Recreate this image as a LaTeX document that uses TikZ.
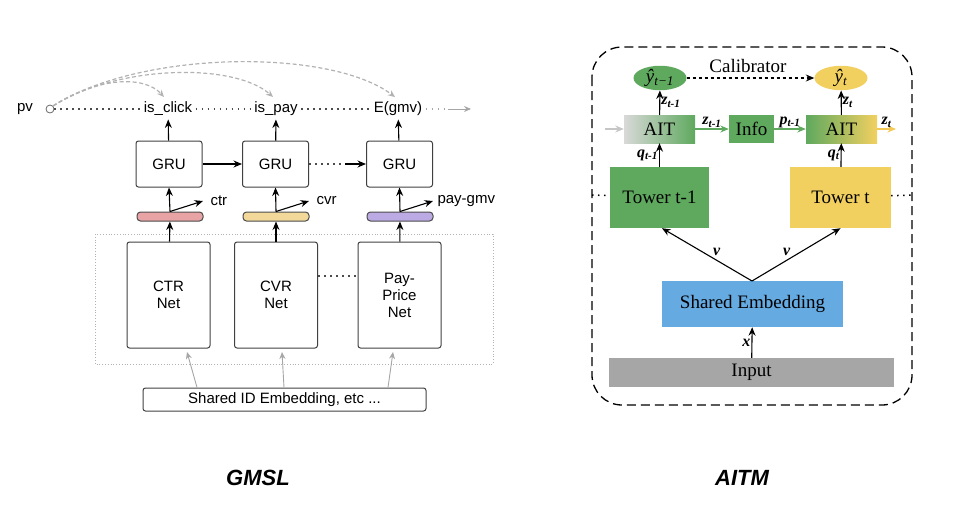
\documentclass[tikz,border=0pt]{standalone}
\usepackage{fontspec}
\setmainfont{Liberation Serif}
\setsansfont{Liberation Sans}
\usepackage{tikz}
\usetikzlibrary{shapes.geometric, arrows.meta, positioning}
\definecolor{ctrRed}{HTML}{E8A4A4}
\definecolor{cvrYellow}{HTML}{F2D99A}
\definecolor{gmvPurple}{HTML}{BCAAE4}
\definecolor{towerGreen}{HTML}{5FA95F}
\definecolor{towerYellow}{HTML}{F2D060}
\definecolor{embedBlue}{HTML}{66AAE2}
\definecolor{inputGray}{HTML}{A6A6A6}
\newcommand{\vlab}[2]{{\bfseries\itshape #1}\textsubscript{\bfseries\itshape #2}}

\begin{document}
\begin{tikzpicture}[
    x=1pt, y=-1pt,
    lfont/.style={font=\sffamily\fontsize{15}{17}\selectfont},
    rfont/.style={font=\fontsize{19}{21}\selectfont},
    labfont/.style={font=\fontsize{16}{18}\selectfont, inner sep=1pt},
    lbox/.style={rectangle, draw=black!75, line width=1pt, rounded corners=2.5pt, align=center, lfont},
    gru/.style={lbox, minimum width=66pt, minimum height=46pt},
    net/.style={lbox, minimum width=83pt, minimum height=106pt},
    bar/.style={rectangle, draw=black!70, line width=1pt, rounded corners=3.5pt, minimum width=66pt, minimum height=9pt, inner sep=0pt},
    rbox/.style={rectangle, inner sep=0pt, align=center, rfont},
    tower/.style={rbox, minimum height=61pt},
    ait/.style={rbox, minimum width=71pt, minimum height=28pt},
    yhat/.style={ellipse, inner sep=0pt, minimum width=53pt, minimum height=24pt, rfont},
    arrow/.style={-{Stealth[length=8.5pt, width=7pt]}, line width=1.1pt},
    grayarrow/.style={-{Stealth[length=7pt, width=6pt]}, draw=gray!70, line width=0.9pt},
    curvearrow/.style={-{Stealth[length=7pt, width=6pt]}, dash pattern=on 4pt off 2.5pt, draw=gray!60, line width=1.2pt},
    dotline/.style={dash pattern=on 1.5pt off 4.5pt, line width=1.5pt, draw=black!70},
]
    \useasboundingbox (0,0) rectangle (973,517);

    % GMSL
    \node[lfont] (pv) at (25,109) {pv};
    \node[circle, draw=black!60, line width=0.8pt, minimum size=8pt, inner sep=0pt] (pvc) at (50,109) {};
    \node[lfont] (isclick) at (168,109) {is\_click};
    \node[lfont] (ispay) at (276,109) {is\_pay};
    \node[lfont] (egmv) at (398,109) {E(gmv)};
    \coordinate (lend) at (448,109);
    \coordinate (lout) at (471,109);

    \node[gru] (gru1) at (169,164) {GRU};
    \node[gru] (gru2) at (275.5,164) {GRU};
    \node[gru] (gru3) at (399.5,164) {GRU};
    \coordinate (gmid) at (345,164);

    \node[bar, fill=ctrRed] (bar1) at (170,216.5) {};
    \node[bar, fill=cvrYellow] (bar2) at (276,216.5) {};
    \node[bar, fill=gmvPurple] (bar3) at (400,216.5) {};
    \coordinate (o1) at (203,201);
    \coordinate (o2) at (309,201);
    \coordinate (o3) at (433,201);
    \node[lfont, right=4pt of o1, anchor=west] {ctr};
    \node[lfont, right=4pt of o2, anchor=west] {cvr};
    \node[lfont, right=1pt of o3, anchor=west] {pay-gmv};

    \draw[dotted, draw=gray!60, line width=0.8pt] (95,234) rectangle (493,364);
    \node[net] (ctr) at (168.5,295) {CTR\\Net};
    \node[net] (cvr) at (276,295) {CVR\\Net};
    \node[net] (pay) at (399.5,295) {Pay-\\Price\\Net};
    \node[lbox, minimum width=283pt, minimum height=23pt] (shared) at (284.5,399.5) {Shared ID Embedding, etc ...};
    \coordinate (e1) at (187,352);
    \coordinate (e2) at (282,352);
    \coordinate (e3) at (393,352);

    \node[font=\sffamily\bfseries\itshape\fontsize{22}{24}\selectfont] (gmsl) at (258,478) {GMSL};

    % GMSL arrows
    \draw[dotline] (pvc) -- (isclick);
    \draw[dotline] (isclick) -- (ispay);
    \draw[dotline] (ispay) -- (egmv);
    \draw[dotline, draw=gray!70] (egmv) -- (lend);
    \draw[grayarrow] (lend) -- (lout);
    \draw[curvearrow] (pvc.north east) .. controls (100,76) and (145,76) .. (164,97);
    \draw[curvearrow] (pvc.north east) .. controls (120,64) and (235,63) .. (273,97);
    \draw[curvearrow] (pvc.north east) .. controls (140,50) and (330,48) .. (395,97);
    \draw[arrow] (gru1) -- (isclick);
    \draw[arrow] (gru2) -- (ispay);
    \draw[arrow] (gru3) -- (egmv);
    \draw[arrow] (gru1) -- (gru2);
    \draw[dotline] (gru2) -- (gmid);
    \draw[arrow] (gmid) -- (gru3);
    \foreach \i in {1,2,3} {
        \draw[arrow] (bar\i.north) -- (gru\i.south);
        \draw[arrow] (bar\i.north) -- (o\i);
    }
    \draw[arrow] (ctr) -- (bar1);
    \draw[arrow] (cvr) -- (bar2);
    \draw[arrow] (pay) -- (bar3);
    \draw[dotline] ([yshift=19pt]cvr.east) -- ([yshift=19pt]pay.west);
    \draw[grayarrow] ([xshift=-87.5pt]shared.north) -- (e1);
    \draw[grayarrow] ([xshift=-0.5pt]shared.north) -- (e2);
    \draw[grayarrow] ([xshift=103.5pt]shared.north) -- (e3);

    % AITM
    \draw[dash pattern=on 9pt off 5pt, line width=1.3pt, rounded corners=30pt] (592,47) rectangle (912,405);
    \node[yhat, fill=towerGreen] (yprev) at (660,78) {\itshape ŷ\textsubscript{\itshape t−1}};
    \node[yhat, fill=towerYellow] (ycur) at (841,78) {\itshape ŷ\textsubscript{\itshape t}};
    \node[rfont] (calib) at (748,66) {Calibrator};
    \node[ait, left color=gray!30, middle color=white, right color=towerGreen] (ait1) at (659.5,129) {AIT};
    \node[rbox, fill=towerGreen, minimum width=45pt, minimum height=28pt] (info) at (751.5,129) {Info};
    \node[ait, left color=towerGreen, middle color=white, right color=towerYellow] (ait2) at (841.5,129) {AIT};
    \node[tower, fill=towerGreen, minimum width=99pt] (towerA) at (659.5,197.5) {Tower t-1};
    \node[tower, fill=towerYellow, minimum width=101pt] (towerB) at (840.5,197.5) {Tower t};
    \node[rbox, fill=embedBlue, minimum width=181pt, minimum height=46pt] (embed) at (752.5,304) {Shared Embedding};
    \node[rbox, fill=inputGray, minimum width=285pt, minimum height=29pt] (input) at (751.5,372.5) {Input};
    \coordinate (ain) at (605,129);
    \coordinate (aout) at (896,129);
    \coordinate (dl) at (592,195);
    \coordinate (dr) at (912,195);
    \coordinate (split) at (752,281);

    \node[rfont] (aitm) at (742,478) {\sffamily\bfseries\itshape\fontsize{22}{24}\selectfont AITM};

    % AITM arrows
    \draw[arrow, dash pattern=on 3.5pt off 2.5pt] (yprev) -- (ycur);
    \draw[arrow, draw=gray!45] (ain) -- (ait1);
    \draw[arrow, draw=towerGreen] (ait1) -- node[labfont, above] {\vlab{z}{t-1}} (info);
    \draw[arrow, draw=towerGreen] (info) -- node[labfont, above] {\vlab{p}{t-1}} (ait2);
    \draw[arrow, draw=towerYellow!90!orange] (ait2) -- node[labfont, above] {\vlab{z}{t}} (aout);
    \draw[arrow] (ait1) -- node[labfont, right] {\vlab{z}{t-1}} (yprev);
    \draw[arrow] (ait2) -- node[labfont, right] {\vlab{z}{t}} (ycur);
    \draw[arrow] (towerA) -- node[labfont, left] {\vlab{q}{t-1}} (ait1);
    \draw[arrow] (towerB) -- node[labfont, left] {\vlab{q}{t}} (ait2);
    \draw[arrow] (split) -- node[labfont, above right, pos=0.45] {\bfseries\itshape v} ([xshift=2.5pt]towerA.south);
    \draw[arrow] (split) -- node[labfont, above left, pos=0.45] {\bfseries\itshape v} (towerB.south);
    \draw[arrow] (input) -- node[labfont, left] {\bfseries\itshape x} (embed);
    \draw[dotline, draw=black] (dl) -- (towerA);
    \draw[dotline, draw=black] (towerB) -- (dr);
\end{tikzpicture}
\end{document}
